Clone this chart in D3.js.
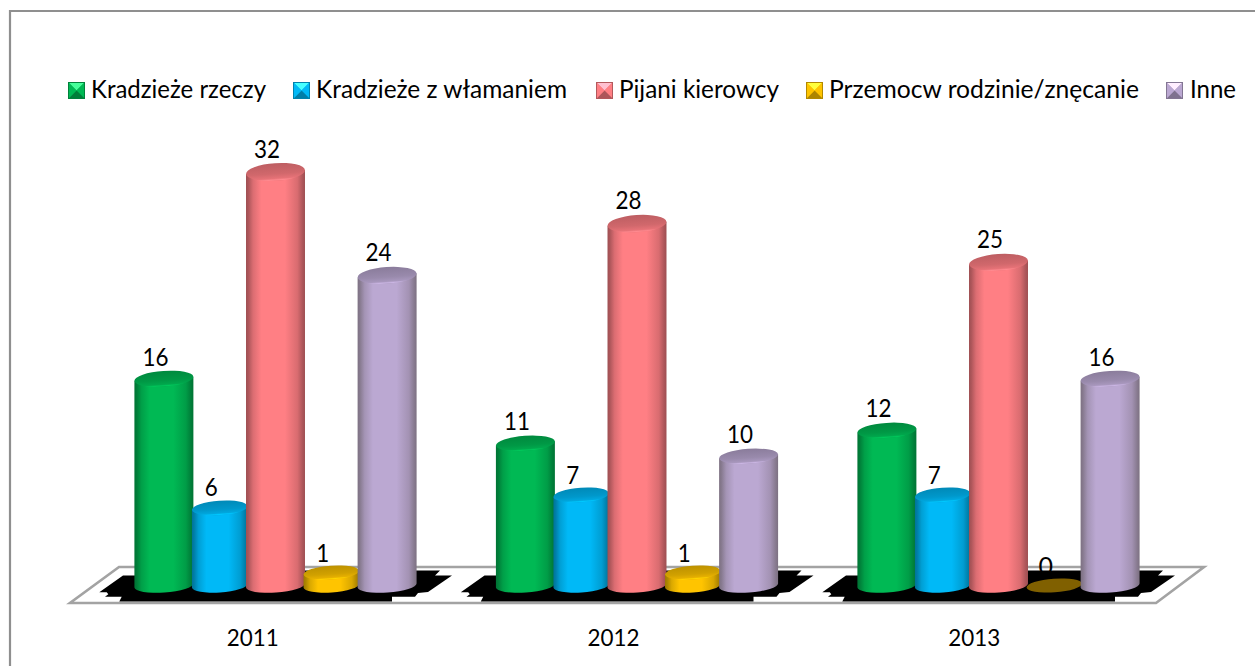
<!DOCTYPE html>
<html><head><meta charset="utf-8">
<script src="https://cdn.jsdelivr.net/npm/d3@7"></script>
<style>html,body{margin:0;padding:0;background:#fff;overflow:hidden}svg{display:block}text{font-family:Lato,"Noto Sans",sans-serif;fill:#000}</style>
</head><body><svg id="c" width="1255" height="666"></svg>
<script>
const years = ["2011","2012","2013"];
const seriesNames = ["Kradzieże rzeczy","Kradzieże z włamaniem","Pijani kierowcy","Przemocw rodzinie/znęcanie","Inne"];
const kradziezeRzeczy = [16,11,12];
const kradziezeZWlamaniem = [6,7,7];
const pijaniKierowcy = [32,28,25];
const przemoc = [1,1,0];
const inne = [24,10,16];
const seriesValues = [kradziezeRzeczy,kradziezeZWlamaniem,pijaniKierowcy,przemoc,inne];

// styling, kept apart from the data
const sideColors = ["#00b954","#00b9f7","#ff7f84","#ffc400","#bba8d2"];
const widthFactor = [1.057,0.995,1.057,0.995,1.057];
const legendSwatchX = [68,293,596,806,1166];
const legendTextX = [91,316,619,829,1190];
const legendTextW = [175,251,160,310,46];
const FS = 25;

const svg = d3.select("#c");
const defs = svg.append("defs");
sideColors.forEach((c,i)=>{
  const col=d3.color(c);
  const g=defs.append("linearGradient").attr("id","side"+i);
  [[0,.62],[.04,.68],[.12,.86],[.26,1],[.66,1],[.87,.85],[.96,.68],[1,.62]].forEach(([o,k])=>{
    const add=i==4?24*(1-k):0;
    g.append("stop").attr("offset",o).attr("stop-color",d3.rgb(col.r*k+add,col.g*k+add,col.b*k).formatRgb());
  });
  const t=defs.append("linearGradient").attr("id","cap"+i).attr("x1",0).attr("x2",0).attr("y1",0).attr("y2",1);
  [[0,.74],[.6,.82],[.86,.9],[.95,1.08],[1,.95]].forEach(([o,k])=>{
    t.append("stop").attr("offset",o).attr("stop-color",d3.rgb(Math.min(255,col.r*k),Math.min(255,col.g*k),Math.min(255,col.b*k)).formatRgb());
  });
});

// frame
svg.append("path").attr("d","M10,666V11H1255").attr("fill","none").attr("stroke","#8f8f8f").attr("stroke-width",2.2);

// scales
const xAxisScale = d3.scaleBand().domain(years).range([72.5,1154.5]);
const xGroup = d3.scaleBand().domain(years).range([94.75,1179.25]);
const xBar = d3.scaleBand().domain(seriesNames).range([-139.5,139.5]);
const y = d3.scaleLinear().domain([0,32]).range([585.5,172]);

const ANG=-4, TAN=Math.tan(ANG*Math.PI/180), RY=7;
const capRy=v=>6.8+0.065*v;
const records = years.flatMap((yr,gi)=>seriesNames.map((s,si)=>({yr,gi,s,si,v:seriesValues[si][gi]})));
const cx=d=>xGroup(d.yr)+xGroup.bandwidth()/2+xBar(d.s)+xBar.bandwidth()/2;
const rx=d=>xBar.bandwidth()/2*widthFactor[d.si];

const labelX=d=>cx(d)-8.5;
const labelY=d=>y(d.v)-(d.v<3?11:d.v<10?11.5:d.v<20?13:14.5);

// floor
const floor=[[119,567],[1204,567],[1156,603],[70,603]];
const shadow=[[123,575.5],[145,575.5],[145,570.5],[440,570.5],[435,575.5],[452,575.5],[428,592],[418,593],[415,596.7],[392,596.7],[392,601.5],[119.3,601.5],[121.7,596.7],[105,596.7],[108.3,594.3],[106.7,592.3],[99.3,592.3]];
svg.append("path").attr("d",d3.line()(floor)+"Z").attr("fill","#fff").attr("stroke","#a3a3a3").attr("stroke-width",2.6);
// the zero label sits between the floor and its shadow
svg.append("g").selectAll("text").data(records.filter(d=>d.v===0)).join("text")
  .attr("x",labelX).attr("y",labelY).attr("text-anchor","middle").attr("font-size",FS).text(d=>d.v);
svg.append("g").selectAll("path").data(years).join("path")
  .attr("d",d3.line()(shadow)+"Z").attr("fill","#000")
  .attr("transform",d=>`translate(${xGroup(d)-xGroup(years[0])},0)`);

// cylinders
const gBars=svg.append("g");
records.forEach(d=>{
  const c=cx(d), r=rx(d), yt=y(d.v), yb=y(0), dy=r*TAN;
  const g=gBars.append("g");
  if(d.v>0){
    g.append("path")
     .attr("d",`M${c-r},${yt-dy}L${c-r},${yb-dy}A${r},${RY} ${ANG} 0 0 ${c+r},${yb+dy}L${c+r},${yt+dy}Z`)
     .attr("fill",`url(#side${d.si})`);
  }
  g.append("ellipse").attr("cx",c).attr("cy",yt).attr("rx",r).attr("ry",capRy(d.v))
   .attr("transform",`rotate(${ANG} ${c} ${yt})`)
   .attr("fill",d.v===0?"#806000":`url(#cap${d.si})`);
});

// data labels
svg.append("g").selectAll("text").data(records.filter(d=>d.v>0)).join("text")
  .attr("x",labelX).attr("y",labelY).attr("text-anchor","middle").attr("font-size",FS)
  .attr("textLength",d=>String(d.v).length*13).attr("lengthAdjust","spacingAndGlyphs").text(d=>d.v);

// category axis
const ax=svg.append("g").attr("transform","translate(0,603)")
  .call(d3.axisBottom(xAxisScale).tickSize(0).tickPadding(26));
ax.select(".domain").remove();
ax.selectAll("text").attr("font-size",FS-1).attr("font-family",null).attr("dy","0.71em")
  .attr("textLength",52).attr("lengthAdjust","spacingAndGlyphs");

// legend
const lg=svg.append("g").selectAll("g").data(seriesNames).join("g");
lg.each(function(name,i){
  const g=d3.select(this), x=legendSwatchX[i], s=17, yy=82;
  const col=d3.rgb(sideColors[i]);
  const shade=k=>d3.rgb(Math.min(255,col.r*k+(k>1?70:0)),Math.min(255,col.g*k+(k>1?50:0)),Math.min(255,col.b*k+(k>1?60:0))).formatRgb();
  const m=[x+s/2,yy+s/2], a=[x,yy], b=[x+s,yy], e=[x+s,yy+s], f=[x,yy+s];
  g.append("rect").attr("x",x).attr("y",yy).attr("width",s).attr("height",s).attr("fill",shade(.9));
  [[a,b,1.12],[b,e,1],[e,f,.68],[f,a,1]].forEach(([p,q,k])=>{
    g.append("path").attr("d",d3.line()([[p[0],p[1]],[q[0],q[1]],m])+"Z").attr("fill",shade(k));
  });
  g.append("rect").attr("x",x+.5).attr("y",yy+.5).attr("width",s-1).attr("height",s-1).attr("fill","none").attr("stroke",shade(.7)).attr("stroke-width",1);
  g.append("text").attr("x",legendTextX[i]).attr("y",98).attr("font-size",FS)
   .attr("textLength",legendTextW[i]).attr("lengthAdjust","spacingAndGlyphs").text(name);
});
</script></body></html>
